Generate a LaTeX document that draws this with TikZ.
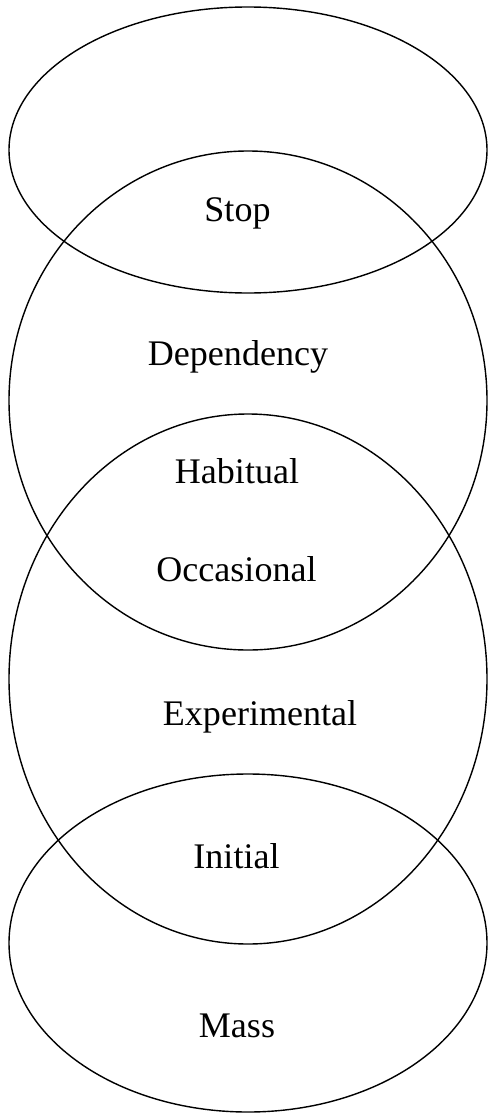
\documentclass[tikz,border=0pt]{standalone}
\usepackage{fontspec}
\setmainfont{Liberation Serif}
\usetikzlibrary{shapes.geometric,positioning}

\begin{document}
\begin{tikzpicture}[
		zone/.style={
			draw,
			ellipse,
			line width=0.8pt,
			inner sep=0pt,
			minimum width=9.56cm
		},
		stage/.style={
			font=\fontsize{20.5}{24}\selectfont,
			anchor=base,
			inner sep=0pt
		}
	]

	% Page frame (488 x 1114)
	\useasboundingbox (0,0) rectangle (9.76,-22.28);

	% Overlapping zones, top to bottom
	\node[zone, minimum height=5.72cm] (stopzone) at (4.96,-3.00) {};
	\node[zone, minimum height=9.98cm] (usezone) at (4.96,-8.01) {};
	\node[zone, minimum height=10.60cm] (trialzone) at (4.96,-13.58) {};
	\node[zone, minimum height=6.76cm] (masszone) at (4.96,-18.86) {};

	% Stage labels
	\node[stage] (stop) at (4.75,-4.42) {Stop};
	\node[stage] (dependency) at (4.76,-7.31) {Dependency};
	\node[stage] (habitual) at (4.74,-9.66) {Habitual};
	\node[stage] (occasional) at (4.73,-11.62) {Occasional};
	\node[stage] (experimental) at (5.20,-14.50) {Experimental};
	\node[stage] (initial) at (4.73,-17.36) {Initial};
	\node[stage] (mass) at (4.74,-20.74) {Mass};

\end{tikzpicture}
\end{document}
